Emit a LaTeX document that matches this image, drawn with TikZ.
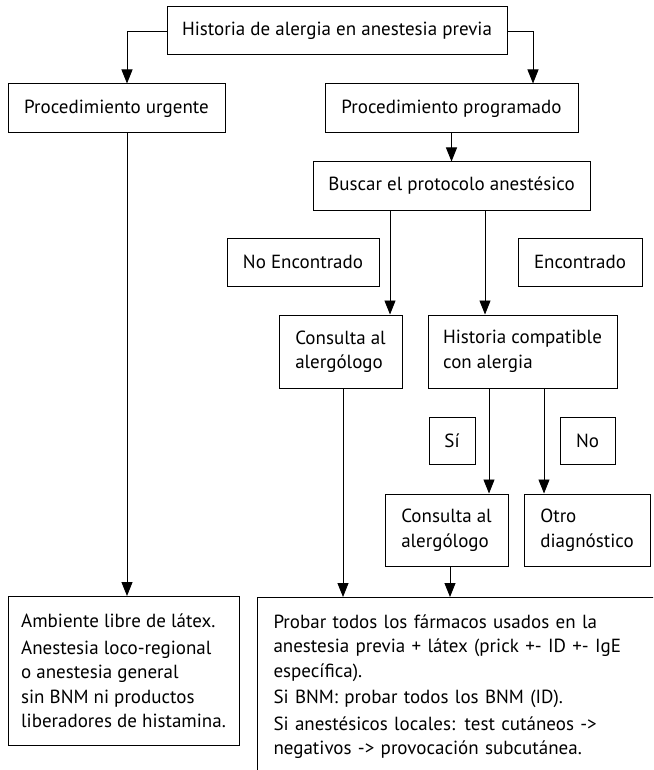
\documentclass[tikz,border=0pt]{standalone}
\usepackage{fontspec}
\setmainfont{PT Sans}
\usetikzlibrary{arrows.meta}

\begin{document}
\begin{tikzpicture}[x=1pt,y=-1pt,
  box/.style={draw,line width=1pt,inner sep=0pt,align=left,
    font=\fontsize{19}{24.5}\selectfont},
  arrow/.style={line width=0.9pt,-{Triangle[length=14pt,width=11pt]}}]

\useasboundingbox (0,0) rectangle (653,770);
\clip (0,0) rectangle (653,770);

\node[box,minimum width=340pt,minimum height=48pt] (top) at (337,31) {Historia de alergia en anestesia previa};

\node[box,minimum width=217pt,minimum height=49pt] (urg) at (116.5,108.5) {Procedimiento urgente};
\node[box,minimum width=253pt,minimum height=49pt] (prog) at (451.5,108.5) {Procedimiento programado};
\node[box,minimum width=277pt,minimum height=48pt] (buscar) at (451.5,186) {Buscar el protocolo anestésico};

\node[box,minimum width=152pt,minimum height=48pt] (noenc) at (303,262) {No Encontrado};
\node[box,minimum width=124pt,minimum height=48pt] (enc) at (580,262) {Encontrado};

\node[box,minimum width=123pt,minimum height=73pt] (cons1) at (340.5,351.5) {Consulta al\\alergólogo};
\node[box,minimum width=189pt,minimum height=73pt] (hist) at (522.5,351.5) {Historia compatible\\con alergia};

\node[box,minimum width=46pt,minimum height=47pt] (si) at (452,440.5) {Sí};
\node[box,minimum width=55pt,minimum height=47pt] (no) at (587.5,440.5) {No};

\node[box,minimum width=123pt,minimum height=72pt] (cons2) at (446.5,530) {Consulta al\\alergólogo};
\node[box,minimum width=126pt,minimum height=72pt] (otro) at (587,530) {Otro\\diagnóstico};

\node[box,minimum width=231pt,minimum height=149pt] (amb) at (123.5,671) {Ambiente libre de látex.\\[2pt]
  Anestesia loco-regional\\o anestesia general\\sin BNM ni productos\\liberadores de histamina.};

% box runs off the page at the right and bottom
\node[box,anchor=north west,inner xsep=16pt,inner ysep=17pt,text width=440pt,text depth=220pt] (prueba) at (257,597)
  {Probar todos los fármacos usados en la\\anestesia previa + látex (prick +- ID +- IgE\\específica).\\[2pt]
  Si BNM: probar todos los BNM (ID).\\[2pt]
  Si anestésicos locales: test cutáneos ->\\negativos -> provocación subcutánea.};

\draw[arrow] (top.west) -| ([xshift=10.5pt]urg.north);
\draw[arrow] (top.east) -| ([xshift=81.5pt]prog.north);
\draw[arrow] (prog) -- (buscar);
\draw[arrow] ([xshift=-61.5pt]buscar.south) -- ([xshift=-61.5pt]buscar.south |- cons1.north);
\draw[arrow] ([xshift=33.5pt]buscar.south) -- ([xshift=33.5pt]buscar.south |- hist.north);
\draw[arrow] ([xshift=-33.5pt]hist.south) -- ([xshift=-33.5pt]hist.south |- cons2.north);
\draw[arrow] ([xshift=21.5pt]hist.south) -- ([xshift=21.5pt]hist.south |- otro.north);
\draw[arrow] ([xshift=10.5pt]urg.south) -- ([xshift=10.5pt]urg.south |- amb.north);
\draw[arrow] ([xshift=2.5pt]cons1.south) -- ([xshift=2.5pt]cons1.south |- prueba.north);
\draw[arrow] ([xshift=3.5pt]cons2.south) -- ([xshift=3.5pt]cons2.south |- prueba.north);

\end{tikzpicture}
\end{document}
